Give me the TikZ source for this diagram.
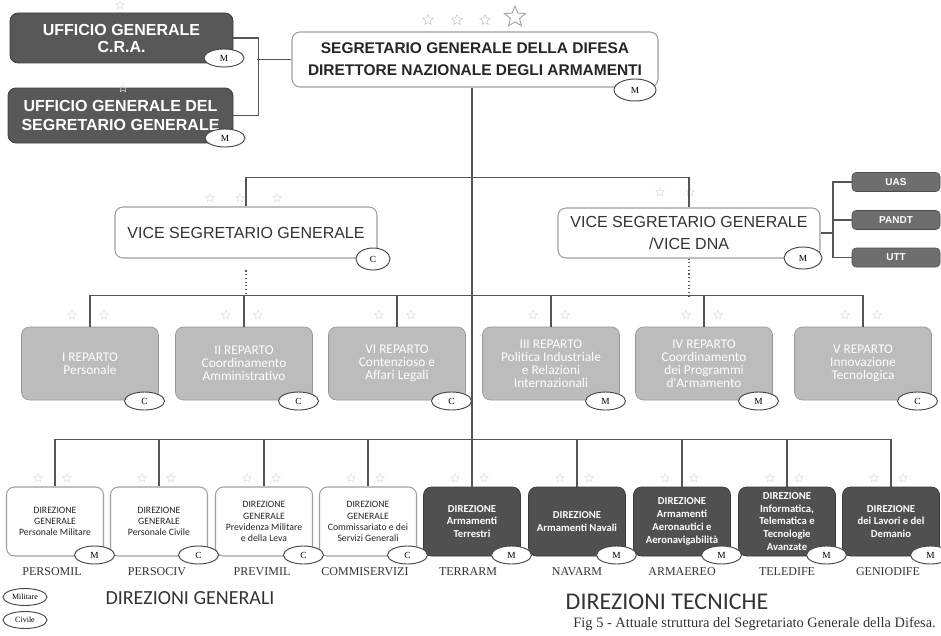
\documentclass[tikz,border=0pt]{standalone}
\usepackage{fontspec}
\setmainfont{Liberation Serif}
\newfontfamily\arialf{Liberation Sans}
\newfontfamily\calf{Carlito}
\usetikzlibrary{shapes.geometric}
\definecolor{darkfill}{RGB}{80,80,80}
\definecolor{ufcfill}{RGB}{88,88,88}
\definecolor{repfill}{RGB}{188,188,188}
\definecolor{smallfill}{RGB}{110,110,110}
\definecolor{linecol}{RGB}{85,85,85}
\begin{document}
\begin{tikzpicture}[x=0.75pt,y=-0.75pt,
  sz/.style 2 args={minimum width=#1*0.75pt, minimum height=#2*0.75pt},
  box/.style={rounded corners=6pt, inner sep=0pt, align=center},
  ufcbox/.style={box, fill=ufcfill, draw=ufcfill!70!black, line width=0.6pt, text=white},
  whitebox/.style={box, fill=white, draw=gray!75, line width=0.8pt},
  repbox/.style={box, fill=repfill, draw=repfill!80!black, line width=0.5pt, text=white,
     font=\calf\fontsize{10}{9.8}\selectfont, sz={137}{73}},
  dgw/.style={whitebox, sz={97}{69}, text=black!85, font=\calf\fontsize{7.3}{8.4}\selectfont},
  dgd/.style={box, fill=darkfill, draw=darkfill!70!black, line width=0.5pt, text=white,
     sz={97}{69}, font=\calf\bfseries\fontsize{8}{9.6}\selectfont},
  smallbox/.style={box, rounded corners=3pt, fill=smallfill, draw=smallfill!70!black, text=white,
     sz={88}{19}, font=\arialf\bfseries\fontsize{7.5}{8}\selectfont},
  badge/.style={ellipse, draw=gray!55!black, fill=white, line width=0.7pt, inner sep=0pt,
     minimum width=40*0.75pt, minimum height=18*0.75pt, font=\rmfamily\fontsize{7}{8}\selectfont},
  lbl/.style={font=\rmfamily\fontsize{9}{10}\selectfont, text=black!80, inner sep=0pt},
  conn/.style={draw=linecol, line width=0.8pt},
  dotconn/.style={draw=linecol, line width=0.8pt, dotted},
  faint/.style={star, star points=5, star point ratio=2.2, draw=gray!30, line width=0.35pt,
     minimum size=9*0.75pt, inner sep=0pt}
]
\useasboundingbox (0,0) rectangle (941,635);

% top-left offices
\node[ufcbox, sz={223}{50}, font=\arialf\bfseries\fontsize{12}{12.75}\selectfont] (ufc1) at (121.5,38) {UFFICIO GENERALE\\C.R.A.};
\node[ufcbox, sz={225}{55}, font=\arialf\bfseries\fontsize{12}{14}\selectfont] (ufc2) at (120.5,115.5) {UFFICIO GENERALE DEL\\SEGRETARIO GENERALE};
\node[badge] (mufc1) at (224,58) {M};
\node[badge] (mufc2) at (225,138) {M};

% Segretario generale
\node[whitebox, sz={366}{55}, text=black!85, font=\arialf\bfseries\fontsize{11.6}{16.5}\selectfont] (sg) at (475,59.5)
  {SEGRETARIO GENERALE DELLA DIFESA\\DIRETTORE NAZIONALE DEGLI ARMAMENTI};
\node[badge, minimum width=42*0.75pt, minimum height=22*0.75pt] (msg) at (635,90) {M};

% stars of the Segretario
\node[faint, draw=gray!50, minimum size=11*0.75pt] (st1) at (428,20) {};
\node[faint, draw=gray!50, minimum size=11*0.75pt] (st2) at (457,20) {};
\node[faint, draw=gray!50, minimum size=11*0.75pt] (st3) at (485,20) {};
\node[star, star points=5, star point ratio=2.3, draw=gray!70, line width=0.7pt, minimum size=22*0.75pt, inner sep=0pt] (st4) at (515,17) {};
\node[faint] (st5) at (120,5) {};
\node[faint, draw=white!80!gray] (st6) at (123,88) {};

% connectors of the offices
\draw[conn] (ufc1.east) -- ++(25,0) |- (ufc2.east);
\draw[conn] (sg.west) -- ++(-34,0);

% vice segretari
\node[whitebox, sz={262}{51}, text=black!80, font=\arialf\fontsize{12}{16.5}\selectfont] (vsg) at (246,232.5) {VICE SEGRETARIO GENERALE};
\node[badge, minimum width=34*0.75pt, minimum height=22*0.75pt] (cvsg) at (373,259) {C};
\node[whitebox, sz={262}{50}, text=black!80, font=\arialf\fontsize{12}{16.5}\selectfont] (vdna) at (689,233) {VICE SEGRETARIO GENERALE\\/VICE DNA};
\node[badge, minimum width=38*0.75pt, minimum height=22*0.75pt] (mvdna) at (803,258) {M};
\node[faint] (sv1) at (210,198) {};
\node[faint] (sv2) at (240,198) {};
\node[faint] (sv3) at (277,198) {};
\node[faint] (sv4) at (660,192) {};
\node[faint] (sv5) at (690,192) {};

% small offices of the vice DNA
\node[smallbox] (uas) at (896,182) {UAS};
\node[smallbox] (pand) at (896,220) {PANDT};
\node[smallbox] (utt) at (896,257.5) {UTT};
\coordinate (vb) at (833,233);
\draw[conn] (vdna.east) -- (vb);
\draw[conn] (uas.west) -| (vb) |- (utt.west);
\draw[conn] (vb |- pand.west) -- (pand.west);

% vice bus
\draw[conn] (vsg.north) -- ++(0,-29) -| (vdna.north);

% reparti
\node[repbox] (r1) at (90,363.5) {I REPARTO\\Personale};
\node[repbox] (r2) at (244,363.5) {II REPARTO\\Coordinamento\\Amministrativo};
\node[repbox] (r3) at (397,363.5) {VI REPARTO\\Contenzioso e\\Affari Legali};
\node[repbox] (r4) at (551,363.5) {III REPARTO\\Politica Industriale\\e Relazioni\\Internazionali};
\node[repbox] (r5) at (704,363.5) {IV REPARTO\\Coordinamento\\dei Programmi\\d'Armamento};
\node[repbox] (r6) at (863,363.5) {V REPARTO\\Innovazione\\Tecnologica};
\node[badge] (br1) at (144.5,401) {C};
\node[badge] (br2) at (298.5,401) {C};
\node[badge] (br3) at (451.5,401) {C};
\node[badge] (br4) at (605.5,401) {M};
\node[badge] (br5) at (758.5,401) {M};
\node[badge] (br6) at (917.5,401) {C};
\foreach \i/\cx in {1/90,2/244,3/397,4/551,5/704,6/863}{
  \node[faint] (fr\i a) at (\cx-18,315) {};
  \node[faint] (fr\i b) at (\cx+14,315) {};
}

\coordinate (rbus) at (470,296);
\draw[conn] (r1.north) -- ++(0,-31) -| (r6.north);
\foreach \r in {r2,r3,r4,r5}{ \draw[conn] (\r.north) -- ++(0,-31); }
\draw[dotconn] (cvsg.south -| vsg.south) -- (vsg.south |- rbus);
\draw[dotconn] (vdna.south) -- (vdna.south |- rbus);

% direzioni
\node[dgw] (d1) at (55,521.5) {DIREZIONE\\GENERALE\\Personale Militare};
\node[dgw] (d2) at (159,521.5) {DIREZIONE\\GENERALE\\Personale Civile};
\node[dgw] (d3) at (264,521.5) {DIREZIONE\\GENERALE\\Previdenza Militare\\e della Leva};
\node[dgw] (d4) at (368,521.5) {DIREZIONE\\GENERALE\\Commissariato e dei\\Servizi Generali};
\node[dgd] (d5) at (472,521.5) {DIREZIONE\\Armamenti\\Terrestri};
\node[dgd] (d6) at (577,521.5) {DIREZIONE\\Armamenti Navali};
\node[dgd] (d7) at (682,521.5) {DIREZIONE\\Armamenti\\Aeronautici e\\Aeronavigabilità};
\node[dgd] (d8) at (787,521.5) {DIREZIONE\\Informatica,\\Telematica e\\Tecnologie\\Avanzate};
\node[dgd] (d9) at (891,521.5) {DIREZIONE\\dei Lavori e del\\Demanio};
\foreach \i/\cx/\b in {1/55/M,2/159/C,3/264/C,4/368/C,5/472/M,6/577/M,7/682/M,8/787/M,9/891/M}{
  \node[badge] (bd\i) at (\cx+39.5,555) {\b};
  \node[faint] (fd\i a) at (\cx-17,478) {};
  \node[faint] (fd\i b) at (\cx+12,478) {};
}
\node[lbl] (l1) at (52,572) {PERSOMIL};
\node[lbl] (l2) at (157,572) {PERSOCIV};
\node[lbl] (l3) at (262,572) {PREVIMIL};
\node[lbl] (l4) at (365,572) {COMMISERVIZI};
\node[lbl] (l5) at (468,572) {TERRARM};
\node[lbl] (l6) at (577,572) {NAVARM};
\node[lbl] (l7) at (682,572) {ARMAEREO};
\node[lbl] (l8) at (787,572) {TELEDIFE};
\node[lbl] (l9) at (888,572) {GENIODIFE};

\draw[conn] (d1.north) -- ++(0,-47) -| (d9.north);
\foreach \d in {d2,d3,d4,d6,d7,d8}{ \draw[conn] (\d.north) -- ++(0,-47); }
\draw[conn] (d5.north |- sg.south) -- (d5.north);

% legend
\node[badge, minimum width=44*0.75pt, minimum height=17*0.75pt, font=\rmfamily\fontsize{6}{7}\selectfont] (lm) at (25,597) {Militare};
\node[badge, minimum width=44*0.75pt, minimum height=17*0.75pt, font=\rmfamily\fontsize{6}{7}\selectfont] (lc) at (25,620) {Civile};
\node[font=\calf\fontsize{15}{17}\selectfont, text=black!80, inner sep=0pt] (dg) at (190,598) {DIREZIONI GENERALI};
\node[font=\calf\fontsize{18}{20}\selectfont, text=black!80, inner sep=0pt] (dt) at (667,602) {DIREZIONI TECNICHE};
\node[font=\rmfamily\fontsize{10.8}{12}\selectfont, text=black!80, inner sep=0pt, anchor=east] (cap) at (936,624) {Fig 5 - Attuale struttura del Segretariato Generale della Difesa.};
\end{tikzpicture}
\end{document}
